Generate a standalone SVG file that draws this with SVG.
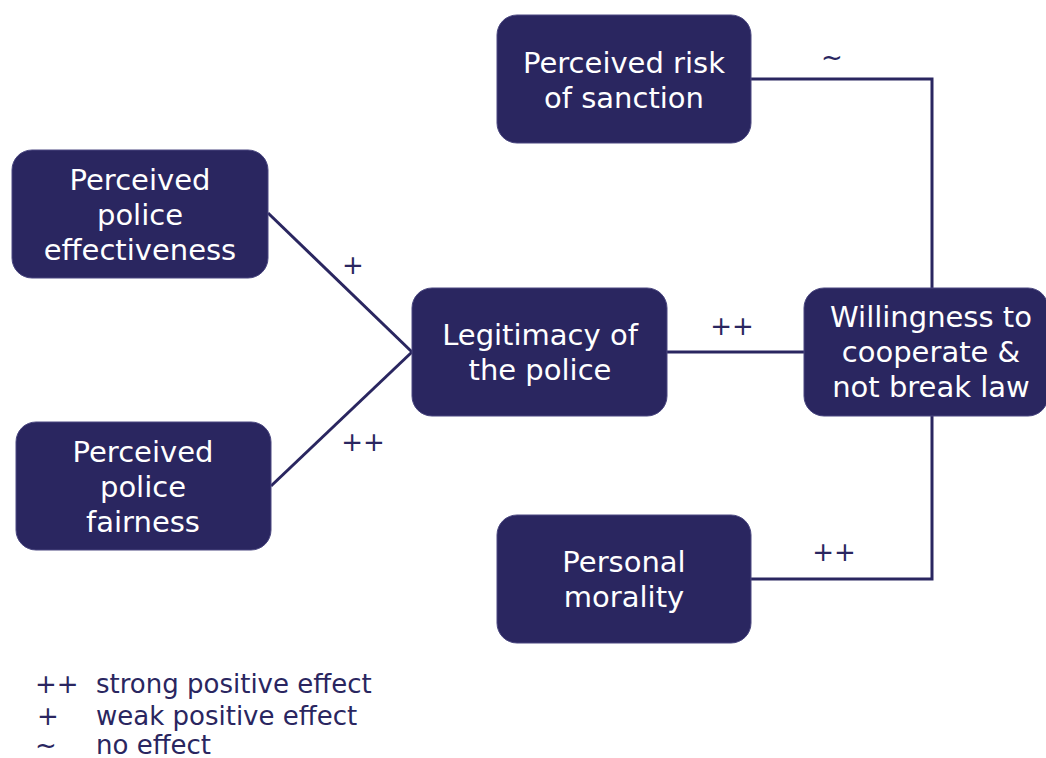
<svg xmlns="http://www.w3.org/2000/svg" width="1046" height="758" viewBox="0 0 1046 758">
<style>
.box{fill:#2a2660;stroke:#4a4780;stroke-width:1}
.t{font-family:"DejaVu Sans",Verdana,sans-serif;font-size:29px;fill:#ffffff;text-anchor:middle}
.c{fill:none;stroke:#2a2660;stroke-width:3}
.l{font-family:"DejaVu Sans",Verdana,sans-serif;font-size:26px;fill:#2a2660}
</style>
<rect width="1046" height="758" fill="#ffffff"/>
<g id="connectors">
<path class="c" d="M268 213 L412 352"/>
<path class="c" d="M271 486 L412 352"/>
<path class="c" d="M667 352 L804 352"/>
<path class="c" d="M751 79 L932 79 L932 288"/>
<path class="c" d="M751 579 L932 579 L932 416"/>
<text class="l" x="353" y="274" text-anchor="middle">+</text>
<text class="l" x="363" y="451" text-anchor="middle">++</text>
<text class="l" x="732" y="335" text-anchor="middle">++</text>
<text class="l" x="834" y="561" text-anchor="middle">++</text>
<text class="l" x="832" y="66" text-anchor="middle">~</text>
</g>
<g id="risk">
<rect class="box" x="497" y="15" width="254" height="128" rx="20"/>
<text class="t" x="624" y="73">Perceived risk</text>
<text class="t" x="624" y="108">of sanction</text>
</g>
<g id="effectiveness">
<rect class="box" x="12" y="150" width="256" height="128" rx="20"/>
<text class="t" x="140" y="190">Perceived</text>
<text class="t" x="140" y="225">police</text>
<text class="t" x="140" y="260">effectiveness</text>
</g>
<g id="fairness">
<rect class="box" x="16" y="422" width="255" height="128" rx="20"/>
<text class="t" x="143" y="462">Perceived</text>
<text class="t" x="143" y="497">police</text>
<text class="t" x="143" y="532">fairness</text>
</g>
<g id="legitimacy">
<rect class="box" x="412" y="288" width="255" height="128" rx="20"/>
<text class="t" x="540" y="345">Legitimacy of</text>
<text class="t" x="540" y="380">the police</text>
</g>
<g id="willingness">
<rect class="box" x="804" y="288" width="244" height="128" rx="20"/>
<text class="t" x="931" y="327">Willingness to</text>
<text class="t" x="931" y="362">cooperate &amp;</text>
<text class="t" x="931" y="397">not break law</text>
</g>
<g id="morality">
<rect class="box" x="497" y="515" width="254" height="128" rx="20"/>
<text class="t" x="624" y="572">Personal</text>
<text class="t" x="624" y="607">morality</text>
</g>
<g id="legend">
<text class="l" x="35" y="693">++</text>
<text class="l" x="96" y="693">strong positive effect</text>
<text class="l" x="37" y="725">+</text>
<text class="l" x="96" y="725">weak positive effect</text>
<text class="l" x="35" y="754">~</text>
<text class="l" x="96" y="754">no effect</text>
</g>
</svg>
